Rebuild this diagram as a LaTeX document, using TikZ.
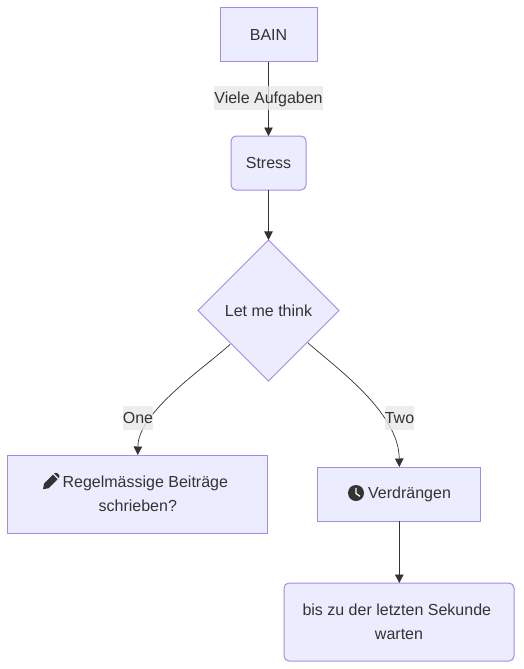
\documentclass[tikz,border=0pt]{standalone}
\usepackage{fontspec}
\setmainfont{Liberation Sans}
\usetikzlibrary{shapes.geometric,arrows.meta}
\definecolor{nodefill}{HTML}{ECECFF}
\definecolor{nodeline}{HTML}{A58BE2}
\definecolor{ink}{HTML}{333333}
\definecolor{labelbg}{HTML}{E8E8E8}
\tikzset{
  x=1pt,y=-1pt,
  base/.style={draw=nodeline,fill=nodefill,text=ink,line width=1pt,inner sep=0pt,outer sep=0pt,font=\fontsize{16}{24}\selectfont,align=center},
  boxnode/.style={base,rectangle},
  roundnode/.style={base,rectangle,rounded corners=5pt},
  decision/.style={base,diamond,aspect=1,minimum width=141pt,minimum height=141pt},
  link/.style={draw=ink,line width=0.7pt,-{Triangle[length=8.5pt,width=8.5pt,color=ink]}},
  edgelabel/.style={inner sep=0pt,outer sep=0pt,text=ink,font=\fontsize{16}{24}\selectfont,text height=17pt,text depth=7pt,fill=labelbg,fill opacity=0.8,text opacity=1,align=center},
}
\begin{document}
\begin{tikzpicture}
\useasboundingbox (0,0) rectangle (523,669);
\node[boxnode,minimum width=97pt,minimum height=54pt] (bain) at (268.5,35) {BAIN};
\node[roundnode,minimum width=75pt,minimum height=54pt] (stress) at (268.5,163) {Stress};
\node[decision] (think) at (268.5,310.5) {Let me think};
\node[boxnode,minimum width=260pt,minimum height=78pt] (regel) at (137.8,494) {\hspace*{15pt}Regelmässige Beiträge\\schrieben?};
\node[boxnode,minimum width=163pt,minimum height=54pt] (verd) at (399.3,494) {\hspace*{20.5pt}\raisebox{-2pt}{Verdrängen}};
\node[roundnode,minimum width=230pt,minimum height=78pt] (wait) at (399,622) {bis zu der letzten Sekunde\hspace*{4.4pt}\\warten};
% connectors
\draw[link] ([shift={(-3,-1.5)}]think.south west) .. controls +(-25,23) and (138,412) .. (regel.north);
\draw[link] ([shift={(4,-3)}]think.south east) .. controls +(27,24) and (399,412) .. (verd.north);
\draw[link] (bain) -- (stress);
\draw[link] (stress) -- (think);
\draw[link] (verd.south) -- (verd.south |- wait.north);
% edge labels
\node[edgelabel,minimum width=107pt] (l1) at (268.5,98) {Viele Aufgaben};
\node[edgelabel,minimum width=30pt] (l2) at (138,418) {One};
\node[edgelabel,minimum width=29pt] (l3) at (399.5,418) {Two};
% pencil icon
\fill[ink] (43,489.2) -- (44.1,483.6) -- (53,474.7) -- (57.6,479.3) -- (48.7,488.2) -- cycle;
\fill[ink] (54.2,473.5) -- (55.4,472.8) .. controls (56,472.5) and (56.8,472.6) .. (57.3,473.1) -- (59.2,475) .. controls (59.7,475.5) and (59.8,476.3) .. (59.4,476.9) -- (58.8,478.1) -- cycle;
% clock icon
\fill[ink] (356,493) circle (8);
\draw[white,line width=1.3pt,line join=round] (356,487.8) -- (356,493.6) -- (360,496.3);
\end{tikzpicture}
\end{document}
